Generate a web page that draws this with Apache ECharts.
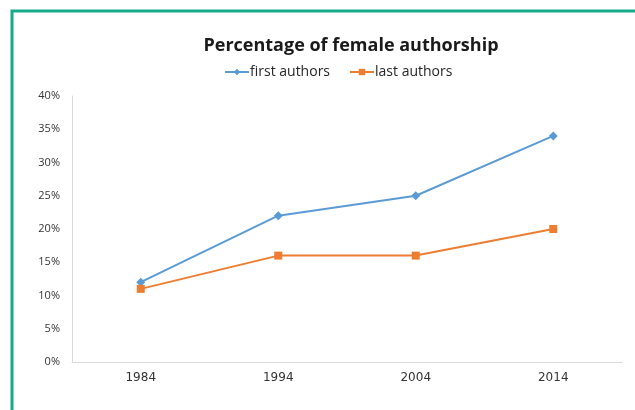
<!DOCTYPE html>
<html>
<head>
<meta charset="utf-8">
<script src="https://cdn.jsdelivr.net/npm/echarts@6/dist/echarts.min.js"></script>
<style>
  html, body { margin: 0; padding: 0; background: #fff; }
  #chart { width: 635px; height: 410px; }
</style>
</head>
<body>
<div id="chart"></div>
<script>
// data
const years = ['1984', '1994', '2004', '2014'];
const firstAuthors = [12, 22, 25, 34];
const lastAuthors = [11, 16, 16, 20];

const chart = echarts.init(document.getElementById('chart'));

const option = {
  backgroundColor: '#fff',
  animation: false,
  title: {
    text: 'Percentage of female authorship',
    left: 346,
    textAlign: 'center',
    top: 32,
    textStyle: {
      fontFamily: 'Open Sans',
      fontSize: 18,
      fontWeight: 'bold',
      color: '#1a1a1a',
    },
  },
  legend: {
    top: 60,
    left: 219,
    itemWidth: 24,
    itemHeight: 8,
    itemGap: 19,
    textStyle: {
      fontFamily: 'Open Sans',
      fontSize: 14,
      color: '#262626',
      padding: [0, 0, 0, -4],
    },
    data: ['first authors', 'last authors'],
  },
  graphic: [{
    // teal frame on the left and top edge
    type: 'polyline',
    shape: { points: [[12, 410], [12, 11], [635, 11]] },
    style: { stroke: '#17a98b', lineWidth: 3, fill: null },
  }],
  grid: {
    left: 72,
    right: 13,
    top: 96,
    bottom: 48,
  },
  xAxis: {
    type: 'category',
    data: years,
    boundaryGap: true,
    axisLine: { lineStyle: { color: '#d9d9d9' } },
    axisTick: { show: false },
    axisLabel: {
      margin: 10,
      fontFamily: 'DejaVu Sans',
      fontSize: 12,
      color: '#333',
    },
  },
  yAxis: {
    type: 'value',
    min: 0,
    max: 40,
    interval: 5,
    axisLine: { show: true, lineStyle: { color: '#d9d9d9' } },
    axisTick: { show: false },
    splitLine: { show: false },
    axisLabel: {
      margin: 12,
      fontFamily: 'Open Sans',
      fontSize: 11,
      color: '#333',
      formatter: '{value}%',
    },
  },
  series: [{
    name: 'first authors',
    type: 'line',
    data: firstAuthors,
    symbol: 'diamond',
    symbolSize: 9,
    color: '#5b9bd5',
    lineStyle: { width: 2 },
  }, {
    name: 'last authors',
    type: 'line',
    data: lastAuthors,
    symbol: 'rect',
    symbolSize: 8,
    color: '#ed7d31',
    lineStyle: { width: 2 },
  }],
};

chart.setOption(option);
</script>
</body>
</html>
